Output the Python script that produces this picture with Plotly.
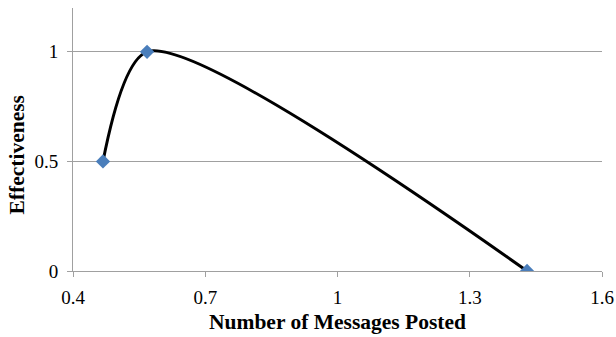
import plotly.graph_objects as go

messages_posted = [0.468, 0.568, 1.43]
effectiveness = [0.5, 1.0, 0.0]
x_ticks = [0.4, 0.7, 1.0, 1.3, 1.6]
x_tick_labels = ["0.4", "0.7", "1", "1.3", "1.6"]
y_ticks = [0, 0.5, 1]
y_tick_labels = ["0", "0.5", "1"]

fig = go.Figure()
fig.add_trace(go.Scatter(
    x=messages_posted, y=effectiveness,
    mode="lines+markers",
    line=dict(color="black", width=3, shape="spline", smoothing=0.75),
    marker=dict(symbol="diamond", size=11, color="#4a7ebb"),
    showlegend=False,
))

font_family = "Liberation Serif"
fig.update_layout(
    width=616, height=337,
    margin=dict(l=73, r=14, t=8, b=66),
    paper_bgcolor="white", plot_bgcolor="white",
    font=dict(family=font_family, size=19, color="black"),
    annotations=[dict(
        text="<b>Effectiveness</b>", textangle=-90,
        xref="paper", yref="paper", x=-0.105, y=0.441,
        xanchor="center", yanchor="middle", showarrow=False,
        font=dict(family=font_family, size=21.5, color="black"),
    )],
)
fig.update_xaxes(
    range=[0.4, 1.6], tickvals=x_ticks, ticktext=x_tick_labels,
    showgrid=False, zeroline=False, automargin=False,
    showline=True, linecolor="#a0a0a0", linewidth=1,
    ticks="outside", ticklen=5, tickcolor="#a0a0a0", ticklabelstandoff=4,
    tickfont=dict(family=font_family, size=19),
    title=dict(text="<b>Number of Messages Posted</b>", font=dict(family=font_family, size=21.5), standoff=7),
)
fig.update_yaxes(
    range=[0, 1.2], tickvals=y_ticks, ticktext=y_tick_labels,
    showgrid=True, gridcolor="#a0a0a0", gridwidth=1, zeroline=False, automargin=False,
    showline=True, linecolor="#a0a0a0", linewidth=1,
    ticks="outside", ticklen=5, tickcolor="#a0a0a0", ticklabelstandoff=5,
    tickfont=dict(family=font_family, size=19),
)
fig.write_html(
    "out.html",
    config={"displayModeBar": False},
    post_script="document.body.style.margin='0';document.body.style.overflow='hidden';",
)
